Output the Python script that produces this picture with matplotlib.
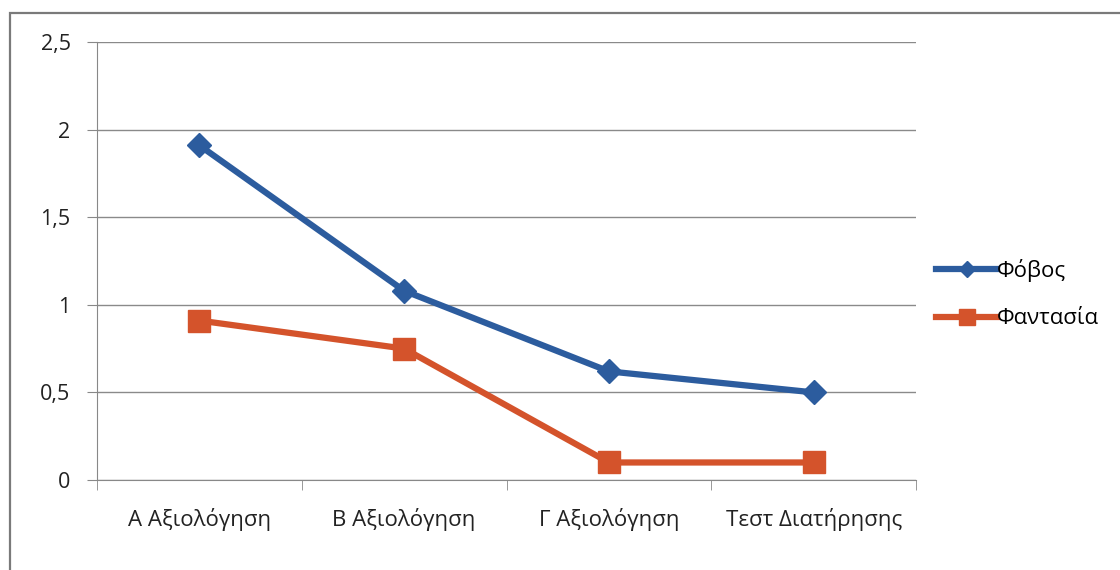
import matplotlib.pyplot as plt
from matplotlib.patches import Rectangle
from matplotlib.ticker import FuncFormatter

categories = ['Α Αξιολόγηση', 'Β Αξιολόγηση', 'Γ Αξιολόγηση', 'Τεστ Διατήρησης']
fovos = [1.91, 1.08, 0.62, 0.50]
fantasia = [0.91, 0.75, 0.10, 0.10]
series_names = ['Φόβος', 'Φαντασία']

plt.rcParams['font.family'] = ['Open Sans', 'DejaVu Sans']

fig = plt.figure(figsize=(11.2, 5.7), dpi=100)
fig.patches.append(Rectangle((10 / 1120, -0.05), 1.2, (570 - 13) / 570 + 0.05,
                             transform=fig.transFigure, fill=False,
                             edgecolor='#7a7a7a', linewidth=1.6))
ax = fig.add_axes([97 / 1120, 90 / 570, (916 - 97) / 1120, (480 - 42) / 570])

x = list(range(len(categories)))
ax.plot(x, fovos, color='#2c5c9e', linewidth=4.5, marker='D', markersize=12,
        label=series_names[0])
ax.plot(x, fantasia, color='#d4532b', linewidth=4.5, marker='s', markersize=16,
        label=series_names[1])

ax.set_xlim(-0.5, len(categories) - 0.5)
ax.set_ylim(0, 2.5)
ax.set_yticks([0, 0.5, 1, 1.5, 2, 2.5])
ax.yaxis.set_major_formatter(FuncFormatter(lambda v, p: ('%g' % v).replace('.', ',')))
ax.set_xticks(x)
ax.set_xticklabels(categories)
ax.set_xticks([i - 0.5 for i in range(len(categories) + 1)], minor=True)
ax.tick_params(axis='x', which='major', length=0, pad=20, labelsize=16, colors='#222222')
ax.tick_params(axis='x', which='minor', length=7, direction='out', color='#888888')
ax.tick_params(axis='y', length=7, direction='out', color='#888888', pad=12,
               labelsize=15.5, labelcolor='#222222')
ax.grid(axis='y', color='#8a8a8a', linewidth=1)
ax.set_axisbelow(True)
for s in ['top', 'right']:
    ax.spines[s].set_visible(False)
for s in ['left', 'bottom']:
    ax.spines[s].set_color('#888888')

leg = fig.legend(loc='center left', bbox_to_anchor=(936 / 1120, (570 - 294) / 570),
                 frameon=False, fontsize=16, handlelength=2.75, handletextpad=0.0,
                 labelspacing=1.2, markerscale=0.7, borderaxespad=0, borderpad=0)

fig.savefig('out.png', dpi=100)
